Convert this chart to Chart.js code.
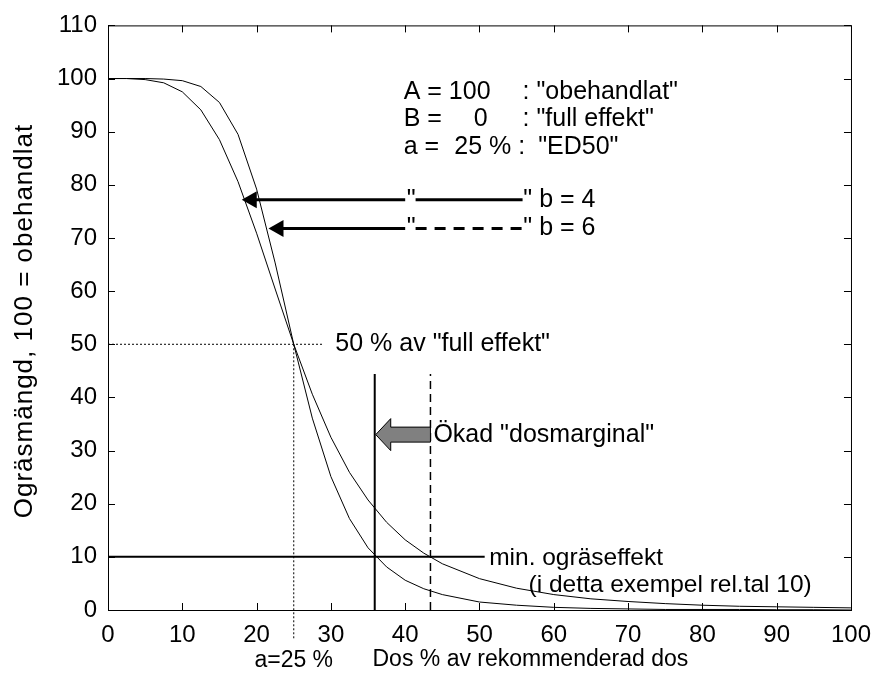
<!DOCTYPE html>
<html>
<head>
    <title>Dos-respons ogräs</title>
    <meta charset="UTF-8">
    <script src="https://cdn.jsdelivr.net/npm/chart.js"></script>
    <style>
        body { margin: 0; background: #fff; }
        #wrap { width: 882px; height: 677px; }
    </style>
</head>
<body>
    <div id="wrap"><canvas id="chart" width="882" height="677"></canvas></div>

    <script>
        // values
        const doses = [0, 2.5, 5, 7.5, 10, 12.5, 15, 17.5, 20, 22.5, 25, 27.5, 30, 32.5, 35, 37.5, 40, 42.5, 45, 50, 55, 60, 65, 70, 75, 80, 85, 90, 95, 100];
        const curveB4 = [100, 100, 99.8, 99.2, 97.5, 94.1, 88.5, 80.6, 70.9, 60.4, 50, 40.6, 32.5, 25.9, 20.7, 16.5, 13.2, 10.7, 8.7, 5.9, 4.1, 2.9, 2.1, 1.6, 1.2, 0.9, 0.7, 0.6, 0.5, 0.4];
        const curveB6 = [100, 100, 100, 99.9, 99.6, 98.5, 95.5, 89.5, 79.2, 65.3, 50, 36.1, 25.1, 17.2, 11.7, 8.1, 5.6, 4.0, 2.9, 1.5, 0.9, 0.5, 0.3, 0.2, 0.1, 0.1, 0.1, 0.05, 0.05, 0];
        const xTicks = [0, 10, 20, 30, 40, 50, 60, 70, 80, 90, 100];
        const yTicks = [0, 10, 20, 30, 40, 50, 60, 70, 80, 90, 100, 110];

        const ed50 = 25;           // a = 25 %
        const minEffect = 10;      // min. ogräseffekt
        const doseSteep = 35.9;    // b = 6 reaches 10
        const doseFlat = 43.4;     // b = 4 reaches 10
        const markerTop = 44.4;
        const minLineEnd = 50.7;
        const halfLineEnd = 28.9;

        const FONT = "'Liberation Sans', Arial, sans-serif";
        Chart.defaults.font.family = FONT;
        Chart.defaults.color = '#000';

        const pts = (xs, ys) => xs.map((x, i) => ({ x: x, y: ys[i] }));
        const base = { borderColor: '#000', pointRadius: 0, fill: false, tension: 0 };

        function arrowHead(ctx, x, y, len, half) {
            ctx.beginPath();
            ctx.moveTo(x, y);
            ctx.lineTo(x + len, y - half);
            ctx.lineTo(x + len, y + half);
            ctx.closePath();
            ctx.fill();
        }

        const decor = {
            id: 'decor',
            afterDraw(chart) {
                const ctx = chart.ctx;
                const xs = chart.scales.x, ys = chart.scales.y;
                const a = chart.chartArea;
                const px = v => xs.getPixelForValue(v);
                const py = v => ys.getPixelForValue(v);

                ctx.save();
                // frame and inward ticks
                ctx.strokeStyle = '#000';
                ctx.lineWidth = 1;
                ctx.strokeRect(a.left + 0.5, a.top + 0.5, a.right - a.left, a.bottom - a.top);
                ctx.beginPath();
                xTicks.forEach(v => {
                    const x = Math.round(px(v)) + 0.5;
                    ctx.moveTo(x, a.bottom); ctx.lineTo(x, a.bottom - 7);
                    ctx.moveTo(x, a.top); ctx.lineTo(x, a.top + 7);
                });
                yTicks.forEach(v => {
                    const y = Math.round(py(v)) + 0.5;
                    ctx.moveTo(a.left, y); ctx.lineTo(a.left + 7, y);
                    ctx.moveTo(a.right, y); ctx.lineTo(a.right - 7, y);
                });
                ctx.stroke();

                ctx.fillStyle = '#000';
                ctx.textBaseline = 'middle';
                ctx.font = '25px ' + FONT;

                // parameter block
                ctx.textAlign = 'left';
                ctx.fillText('A = 100', px(39.8), py(97.4));
                ctx.fillText(': "obehandlat"', px(55.8), py(97.4));
                ctx.fillText('B =', px(39.8), py(92.4));
                ctx.textAlign = 'right';
                ctx.fillText('0', px(51.1), py(92.4));
                ctx.textAlign = 'left';
                ctx.fillText(': "full effekt"', px(55.8), py(92.4));
                ctx.fillText('a =', px(39.8), py(87.1));
                ctx.fillText('25 % :', px(46.6), py(87.1));
                ctx.fillText('"ED50"', px(57.9), py(87.1));

                // arrows to the curves with line-style keys
                [[77.2, 18.0, false, '" b = 4'], [71.8, 21.6, true, '" b = 6']].forEach(r => {
                    const y = py(r[0]);
                    ctx.lineWidth = 3;
                    ctx.setLineDash([]);
                    ctx.beginPath();
                    ctx.moveTo(px(r[1]) + 12, y);
                    ctx.lineTo(px(40), y);
                    ctx.stroke();
                    arrowHead(ctx, px(r[1]), y, 15, 8.5);
                    ctx.fillText('"', px(40.2), y);
                    ctx.setLineDash(r[2] ? [11, 8] : []);
                    ctx.beginPath();
                    ctx.moveTo(px(41.4), y);
                    ctx.lineTo(px(55.8), y);
                    ctx.stroke();
                    ctx.setLineDash([]);
                    ctx.fillText(r[3], px(55.9), y);
                });

                ctx.fillText('50 % av "full effekt"', px(30.6), py(50));

                // grey block arrow between the two doses
                const ty = py(33), tip = px(doseSteep) + 1, tail = px(doseFlat);
                ctx.lineWidth = 1;
                ctx.fillStyle = '#808080';
                ctx.beginPath();
                ctx.moveTo(tip, ty);
                ctx.lineTo(tip + 15, ty - 16);
                ctx.lineTo(tip + 15, ty - 7.5);
                ctx.lineTo(tail, ty - 7.5);
                ctx.lineTo(tail, ty + 7.5);
                ctx.lineTo(tip + 15, ty + 7.5);
                ctx.lineTo(tip + 15, ty + 16);
                ctx.closePath();
                ctx.fill();
                ctx.stroke();
                ctx.fillStyle = '#000';
                ctx.fillText('Ökad "dosmarginal"', px(43.8), ty);

                ctx.font = '24.5px ' + FONT;
                ctx.fillText('min. ogräseffekt', px(51.3), py(9.8));
                ctx.fillText('(i detta exempel rel.tal 10)', px(56.6), py(4.7));

                // axis titles
                ctx.font = '23px ' + FONT;
                ctx.fillText('Dos % av rekommenderad dos', px(35.6), py(-9.4));
                ctx.textAlign = 'center';
                ctx.fillText('a=25 %', px(ed50), py(-9.6));
                ctx.translate(25, 321);
                ctx.rotate(-Math.PI / 2);
                ctx.font = '26px ' + FONT;
                ctx.letterSpacing = '1px';
                ctx.fillText('Ogräsmängd, 100 = obehandlat', 0, 0);
                ctx.restore();
            }
        };

        new Chart(document.getElementById('chart'), {
            type: 'line',
            data: {
                datasets: [
                    { ...base, label: 'b = 4', data: pts(doses, curveB4), borderWidth: 1 },
                    { ...base, label: 'b = 6', data: pts(doses, curveB6), borderWidth: 1 },
                    { ...base, label: 'min', data: [{ x: 0, y: minEffect }, { x: minLineEnd, y: minEffect }], borderWidth: 2 },
                    { ...base, label: 'dos b6', data: [{ x: doseSteep, y: 0 }, { x: doseSteep, y: markerTop }], borderWidth: 2 },
                    { ...base, label: 'dos b4', data: [{ x: doseFlat, y: 0 }, { x: doseFlat, y: markerTop }], borderWidth: 1.5, borderDash: [8, 5] },
                    { ...base, label: 'halv', data: [{ x: 0, y: 50 }, { x: halfLineEnd, y: 50 }], borderWidth: 1, borderDash: [2, 2] },
                    { ...base, label: 'ED50', data: [{ x: ed50, y: 50 }, { x: ed50, y: -5.6 }], borderWidth: 1, borderDash: [2, 2], clip: false }
                ]
            },
            options: {
                responsive: false,
                animation: false,
                devicePixelRatio: 1,
                layout: { padding: { top: 25, right: 23, left: 0, bottom: 0 } },
                plugins: { legend: { display: false }, tooltip: { enabled: false } },
                scales: {
                    x: {
                        type: 'linear', min: 0, max: 100,
                        grid: { display: false, drawTicks: false },
                        border: { display: false },
                        ticks: { stepSize: 10, padding: 11, font: { size: 24 }, color: '#000' },
                        afterFit: s => { s.height = 67; }
                    },
                    y: {
                        min: 0, max: 110,
                        grid: { display: false, drawTicks: false },
                        border: { display: false },
                        ticks: { stepSize: 10, padding: 11, font: { size: 24 }, color: '#000' },
                        afterFit: s => { s.width = 108; }
                    }
                }
            },
            plugins: [decor]
        });
    </script>
</body>
</html>
